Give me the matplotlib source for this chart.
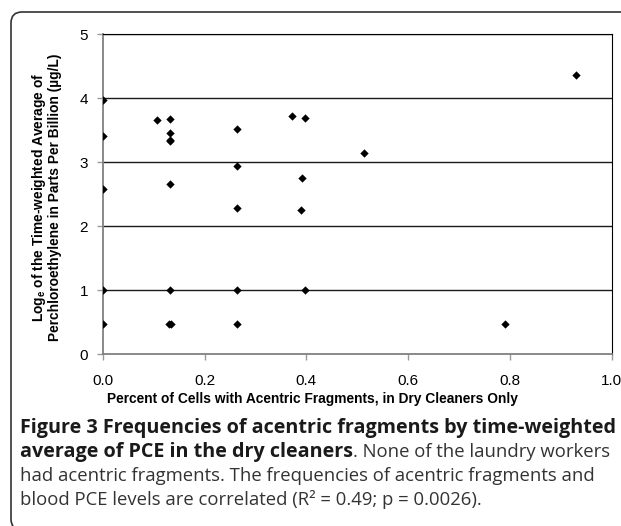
import matplotlib
matplotlib.use("Agg")
import matplotlib.pyplot as plt
from matplotlib.patches import FancyBboxPatch
from matplotlib.transforms import IdentityTransform

plt.rcParams['font.family'] = ['Liberation Sans', 'DejaVu Sans']
plt.rcParams['mathtext.fontset'] = 'custom'
plt.rcParams['mathtext.rm'] = 'Liberation Sans'
plt.rcParams['mathtext.bf'] = 'Liberation Sans:bold'

# Data
pct_acentric = [0.0, 0.0, 0.0, 0.0, 0.0,
                0.107, 0.132, 0.132, 0.132, 0.132, 0.132, 0.132, 0.130, 0.134,
                0.263, 0.263, 0.264, 0.263, 0.263,
                0.371, 0.398, 0.391, 0.390, 0.398,
                0.513, 0.791, 0.929]
log_pce = [3.97, 3.41, 2.59, 1.0, 0.48,
           3.66, 3.68, 3.46, 3.35, 3.33, 2.66, 1.0, 0.48, 0.48,
           3.52, 2.94, 2.28, 1.0, 0.48,
           3.73, 3.70, 2.75, 2.26, 1.0,
           3.14, 0.48, 4.37]
x_ticks = [0.0, 0.2, 0.4, 0.6, 0.8, 1.0]
y_ticks = [0, 1, 2, 3, 4, 5]

W, H = 621, 526
fig = plt.figure(figsize=(W / 100, H / 100), dpi=100)

# outer rounded frame
frame = FancyBboxPatch((11, -4), 660, 514 + 4,
                       boxstyle="round,pad=0,rounding_size=11",
                       transform=IdentityTransform(), fill=False,
                       edgecolor='#333333', linewidth=1.2)
fig.patches.append(frame)

ax = fig.add_axes([102.7 / W, 1 - 354.3 / H, 509 / W, 320 / H])
ax.scatter(pct_acentric, log_pce, marker='D', s=18, color='black', zorder=3,
           linewidths=0)
ax.set_xlim(0, 1)
ax.set_ylim(0, 5)
ax.set_xticks(x_ticks)
ax.set_xticklabels([f"{v:.1f}" for v in x_ticks])
ax.set_yticks(y_ticks)
for v in y_ticks[1:]:
    ax.axhline(v, color='#1a1a1a', lw=1.0, zorder=1)
ax.spines['left'].set_color('#808080')
ax.spines['bottom'].set_color('#808080')
ax.spines['left'].set_linewidth(1.3)
ax.spines['bottom'].set_linewidth(1.3)
ax.spines['right'].set_color('black')
ax.spines['top'].set_color('black')
ax.tick_params(axis='both', direction='out', length=4, width=1, color='#999999',
               labelsize=11, pad=6.5)
ax.tick_params(axis='x', pad=10)

fig.text(312 / W, 1 - 399 / H,
         "Percent of Cells with Acentric Fragments, in Dry Cleaners Only",
         ha='center', va='center', fontsize=9.9, fontweight='bold')
fig.text(46 / W, 1 - 197 / H,
         "Log$_\\mathbf{e}$ of the Time-weighted Average of\n"
         "Perchloroethylene in Parts Per Billion (µg/L)",
         ha='center', va='center', rotation=90, fontsize=9.9,
         fontweight='bold', linespacing=1.05)

# caption
cap_font = ['Open Sans', 'DejaVu Sans']
cap_bold_size = 14.2
cap_size = 13.3
cap_color = '#333333'
x0 = 20 / W
lines_y = [433, 457, 481, 505]
fig.text(x0, 1 - lines_y[0] / H,
         "Figure 3 Frequencies of acentric fragments by time-weighted",
         family=cap_font, fontsize=cap_bold_size, fontweight='bold',
         va='baseline', color='#1a1a1a')
t_bold = fig.text(x0, 1 - lines_y[1] / H,
                  "average of PCE in the dry cleaners",
                  family=cap_font, fontsize=cap_bold_size, fontweight='bold',
                  va='baseline', color='#1a1a1a')
fig.canvas.draw()
bb = t_bold.get_window_extent(renderer=fig.canvas.get_renderer())
fig.text(bb.x1 / W, 1 - lines_y[1] / H, ". None of the laundry workers",
         family=cap_font, fontsize=cap_size, va='baseline', color=cap_color)
fig.text(x0, 1 - lines_y[2] / H,
         "had acentric fragments. The frequencies of acentric fragments and",
         family=cap_font, fontsize=cap_size, va='baseline', color=cap_color)
fig.text(x0, 1 - lines_y[3] / H,
         "blood PCE levels are correlated (R² = 0.49; p = 0.0026).",
         family=cap_font, fontsize=cap_size, va='baseline', color=cap_color)

fig.savefig("out.png", dpi=100)
